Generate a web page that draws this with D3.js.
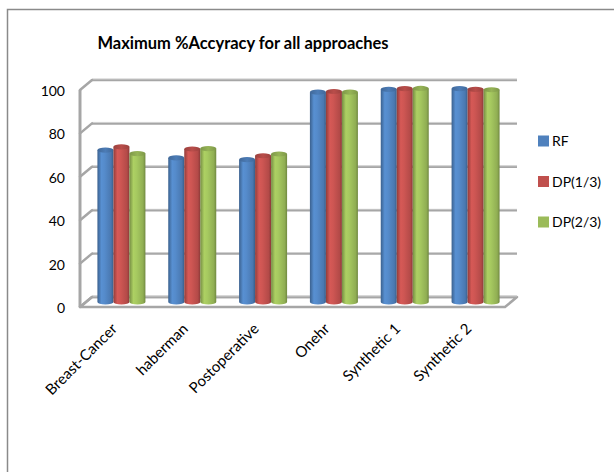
<!DOCTYPE html>
<html>
<head>
<meta charset="utf-8">
<script src="https://cdn.jsdelivr.net/npm/d3@7"></script>
<style>
  html, body { margin: 0; padding: 0; background: #fff; }
  svg { display: block; }
  text { font-family: Lato, "Open Sans", sans-serif; fill: #000; }
</style>
</head>
<body>
<script>
const categories = ["Breast-Cancer", "haberman", "Postoperative", "Onehr", "Synthetic 1", "Synthetic 2"];
const seriesNames = ["RF", "DP(1/3)", "DP(2/3)"];
const rfValues  = [70.0, 66.4, 65.6, 96.7, 98.0, 98.3];
const dp13Values = [71.5, 70.5, 67.4, 97.0, 98.3, 98.0];
const dp23Values = [68.4, 70.7, 68.2, 96.7, 98.4, 97.8];
const yTicks = [0, 20, 40, 60, 80, 100];
const seriesColors = ["#4F81BD", "#C0504D", "#9BBB59"];
const titleText = "Maximum %Accyracy for all approaches";

const W = 614, H = 472;
const svg = d3.select("body").append("svg").attr("width", W).attr("height", H);

const DX = 12, DY = -10;

svg.append("rect").attr("x", 7.5).attr("y", 9.5).attr("width", 700).attr("height", 600)
  .attr("fill", "#fff").attr("stroke", "#8a8a8a").attr("stroke-width", 1.5);

svg.append("text").attr("x", 243).attr("y", 49).attr("text-anchor", "middle")
  .style("font-weight", "bold").style("font-size", "16.5px").text(titleText);

const yFront = d3.scaleLinear().domain([0, 100]).range([307, 90]);
const xFront = d3.scaleBand().domain(categories).range([80, 505]);
const xBar = d3.scaleBand().domain(categories).range([80 + DX / 2, 505 + DX / 2]);
const yBar = d3.scaleLinear().domain([0, 100]).range([307 + DY / 2, 90 + DY / 2]);
const xInner = d3.scaleBand().domain(seriesNames).range([0, 48]);

const grid = svg.append("g");
const gridColor = "#a6a6a6";

const x0 = xFront.range()[0], x1 = xFront.range()[1];
const y0 = yFront(0);
grid.append("path")
  .attr("d", `M${x0},${y0} L${x1},${y0} L${x1 + DX},${y0 + DY} L${x0 + DX},${y0 + DY} Z`)
  .attr("fill", "#fff").attr("stroke", gridColor).attr("stroke-width", 2.5).attr("stroke-linejoin", "round");

yTicks.forEach(t => {
  const yf = yFront(t);
  grid.append("line").attr("x1", x0 + DX).attr("x2", x1 + DX).attr("y1", yf + DY).attr("y2", yf + DY)
    .attr("stroke", gridColor).attr("stroke-width", 2.5);
  grid.append("line").attr("x1", x0 + DX).attr("x2", x1 + DX).attr("y1", yf + DY - 1).attr("y2", yf + DY - 1)
    .attr("stroke", "#d9d9d9").attr("stroke-width", 0.8);
  grid.append("line").attr("x1", x0).attr("x2", x0 + DX).attr("y1", yf).attr("y2", yf + DY)
    .attr("stroke", gridColor).attr("stroke-width", 2.5).attr("stroke-linecap", "round");
});
grid.append("line").attr("x1", x0).attr("x2", x0).attr("y1", yFront(100)).attr("y2", yFront(0))
  .attr("stroke", gridColor).attr("stroke-width", 3);

svg.append("g").selectAll("text").data(yTicks).join("text")
  .attr("x", 65).attr("y", d => yFront(d) + 1).attr("dy", "0.35em")
  .attr("text-anchor", "end").style("font-size", "14px").text(d => d);

const defs = svg.append("defs");
seriesColors.forEach((c, i) => {
  const base = d3.color(c);
  const g = defs.append("linearGradient").attr("id", "cyl" + i)
    .attr("x1", "0%").attr("x2", "100%").attr("y1", "0%").attr("y2", "0%");
  g.append("stop").attr("offset", "0%").attr("stop-color", base.darker(0.8));
  g.append("stop").attr("offset", "25%").attr("stop-color", base.brighter(0.3));
  g.append("stop").attr("offset", "45%").attr("stop-color", base.brighter(0.2));
  g.append("stop").attr("offset", "85%").attr("stop-color", base.darker(0.2));
  g.append("stop").attr("offset", "100%").attr("stop-color", base.darker(0.9));
  const t = defs.append("linearGradient").attr("id", "top" + i)
    .attr("x1", "0%").attr("x2", "100%").attr("y1", "0%").attr("y2", "0%");
  t.append("stop").attr("offset", "0%").attr("stop-color", base.darker(0.6));
  t.append("stop").attr("offset", "50%").attr("stop-color", base.darker(0.1));
  t.append("stop").attr("offset", "100%").attr("stop-color", base.darker(0.6));
});

const seriesValues = [rfValues, dp13Values, dp23Values];
const offset = (xBar.bandwidth() - 48) / 2;
const rx = xInner.bandwidth() / 2, ry = 2.6;
const bars = svg.append("g");
categories.forEach((cat, ci) => {
  seriesNames.forEach((s, si) => {
    const v = seriesValues[si][ci];
    const cx = xBar(cat) + offset + xInner(s) + rx;
    const yt = yBar(v), yb = yBar(0);
    const g = bars.append("g");
    g.append("path")
      .attr("d", `M${cx - rx},${yt} L${cx - rx},${yb} A${rx},${ry} 0 0 0 ${cx + rx},${yb} L${cx + rx},${yt} Z`)
      .attr("fill", `url(#cyl${si})`);
    g.append("ellipse").attr("cx", cx).attr("cy", yt).attr("rx", rx).attr("ry", ry)
      .attr("fill", `url(#top${si})`);
  });
});

svg.append("g").selectAll("text").data(categories).join("text")
  .attr("transform", d => `translate(${xFront(d) + xFront.bandwidth() / 2 - 1},${326}) rotate(-45)`)
  .attr("text-anchor", "end").attr("dy", "0.35em").style("font-size", "15px").text(d => d);

const legend = svg.append("g");
seriesNames.forEach((s, i) => {
  const cy = 141 + i * 40.5;
  legend.append("rect").attr("x", 538).attr("y", cy - 5.5).attr("width", 11).attr("height", 11)
    .attr("fill", seriesColors[i]);
  legend.append("text").attr("x", 552).attr("y", cy).attr("dy", "0.36em")
    .style("font-size", "14px").text(s);
});
</script>
</body>
</html>
